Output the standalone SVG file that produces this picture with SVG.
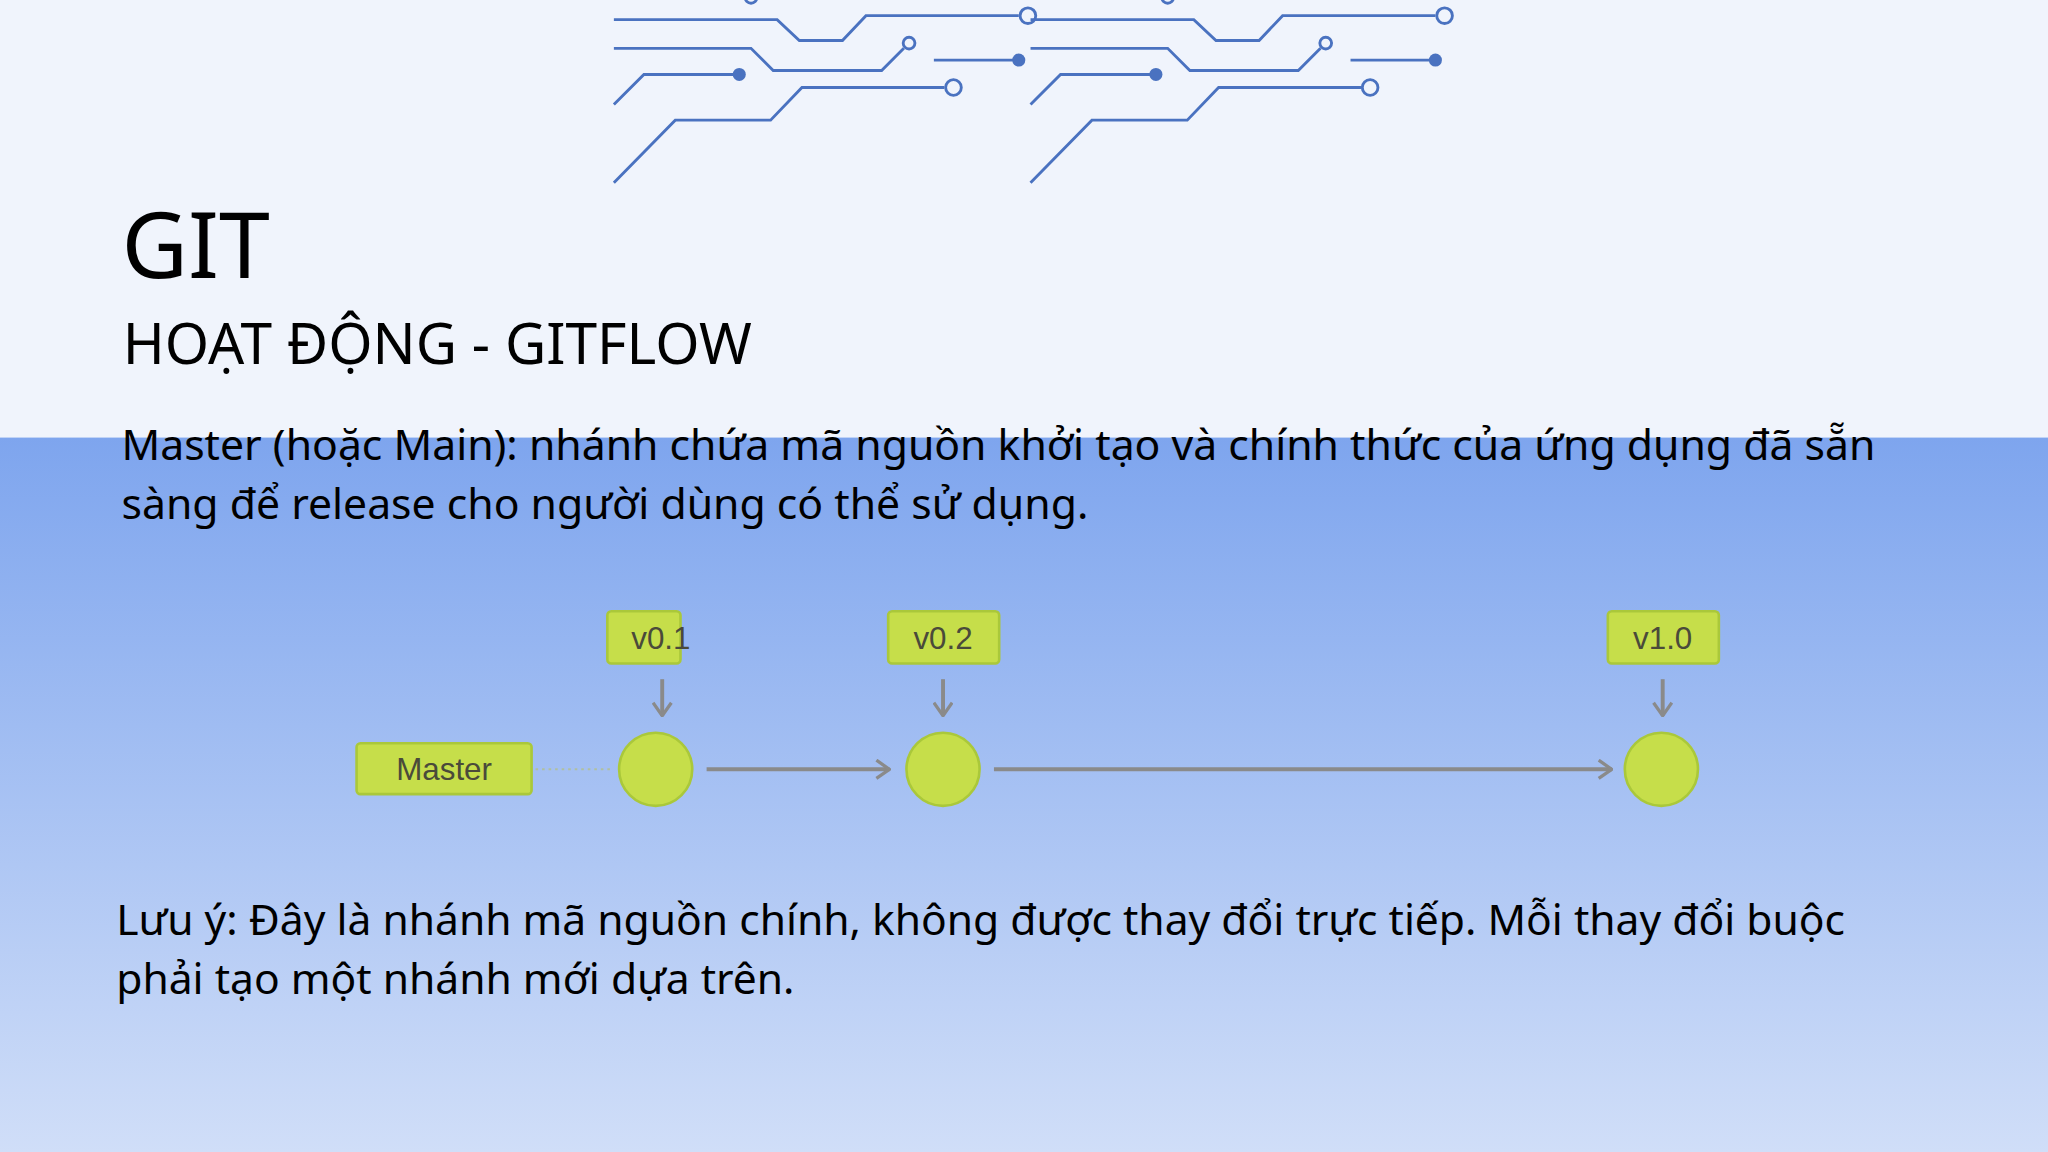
<svg xmlns="http://www.w3.org/2000/svg" width="2048" height="1152" viewBox="0 0 2048 1152">
<defs>
<linearGradient id="bg" x1="0" y1="0" x2="0" y2="1"><stop offset="0" stop-color="#7ea5ee"/><stop offset="1" stop-color="#d0def8"/></linearGradient>
<marker id="ah" viewBox="0 0 12 16" refX="11" refY="8" markerWidth="12" markerHeight="16" markerUnits="userSpaceOnUse" orient="auto"><path d="M1,1 L11,8 L1,15" fill="none" stroke="#8a8a8a" stroke-width="2.5"/></marker>
<style>
.c{fill:none;stroke:#4a72c0;stroke-width:2.2}
.o{fill:#f0f4fc;stroke:#4a72c0;stroke-width:2.2}
.d{fill:#4a72c0}
.t{font-family:"Noto Sans","Open Sans",sans-serif;fill:#000}
.g{fill:#c6de4a;stroke:#aac83a;stroke-width:2}
.lb{font-family:"Liberation Sans",Arial,sans-serif;font-size:24px;fill:#4a4a3a;text-anchor:middle}
.a{fill:none;stroke:#8a8a8a;stroke-width:3;marker-end:url(#ah)}
</style>
</defs>
<g transform="scale(1.30612)">
<rect width="1568" height="335" fill="#f0f4fc"/>
<rect y="335" width="1568" height="547" fill="url(#bg)"/>
<g id="circuit">
<g id="c1">
<polyline class="c" points="470,15 595,15 612,31 645,31 663,12 780,12"/><circle class="o" cx="787" cy="12" r="6"/>
<polyline class="c" points="470,37 575,37 592,54 675,54 692,37"/><circle class="o" cx="696" cy="33" r="4.5"/>
<line class="c" x1="715" y1="46" x2="776" y2="46"/><circle class="d" cx="780" cy="46" r="5"/>
<polyline class="c" points="470,80 493,57 566,57"/><circle class="d" cx="566" cy="57" r="5"/>
<polyline class="c" points="470,140 517,92 590,92 614,67 723,67"/><circle class="o" cx="730" cy="67" r="6"/>
<circle class="o" cx="575" cy="-2" r="4.5"/>
</g>
<g id="c2" transform="translate(319,0)">
<polyline class="c" points="470,15 595,15 612,31 645,31 663,12 780,12"/><circle class="o" cx="787" cy="12" r="6"/>
<polyline class="c" points="470,37 575,37 592,54 675,54 692,37"/><circle class="o" cx="696" cy="33" r="4.5"/>
<line class="c" x1="715" y1="46" x2="776" y2="46"/><circle class="d" cx="780" cy="46" r="5"/>
<polyline class="c" points="470,80 493,57 566,57"/><circle class="d" cx="566" cy="57" r="5"/>
<polyline class="c" points="470,140 517,92 590,92 614,67 723,67"/><circle class="o" cx="730" cy="67" r="6"/>
<circle class="o" cx="575" cy="-2" r="4.5"/>
</g>
</g>
<text class="t" x="93" y="213" font-size="70">GIT</text>
<text class="t" x="94" y="279" font-size="43.5">HOẠT ĐỘNG - GITFLOW</text>
<text class="t" x="93" y="352" font-size="32.7">Master (hoặc Main): nhánh chứa mã nguồn khởi tạo và chính thức của ứng dụng đã sẵn</text>
<text class="t" x="93" y="397" font-size="32.7">sàng để release cho người dùng có thể sử dụng.</text>
<g id="connectors">
<line x1="410" y1="589" x2="470" y2="589" stroke="#b0c0a0" stroke-width="1.5" stroke-dasharray="2,3"/>
<line class="a" x1="541" y1="589" x2="681" y2="589"/>
<line class="a" x1="761" y1="589" x2="1234" y2="589"/>
<line class="a" x1="507" y1="520" x2="507" y2="548"/>
<line class="a" x1="722" y1="520" x2="722" y2="548"/>
<line class="a" x1="1273" y1="520" x2="1273" y2="548"/>
</g>
<g id="master"><rect class="g" x="273" y="569" width="134" height="39" rx="3"/><text class="lb" x="340" y="597">Master</text></g>
<g id="n1"><circle class="g" cx="502" cy="589" r="28"/></g>
<g id="n2"><circle class="g" cx="722" cy="589" r="28"/></g>
<g id="n3"><circle class="g" cx="1272" cy="589" r="28"/></g>
<g id="v01"><rect class="g" x="465" y="468" width="56" height="40" rx="3"/><text class="lb" x="506" y="497">v0.1</text></g>
<g id="v02"><rect class="g" x="680" y="468" width="85" height="40" rx="3"/><text class="lb" x="722" y="497">v0.2</text></g>
<g id="v10"><rect class="g" x="1231" y="468" width="85" height="40" rx="3"/><text class="lb" x="1273" y="497">v1.0</text></g>
<text class="t" x="89" y="716" font-size="32.6">Lưu ý: Đây là nhánh mã nguồn chính, không được thay đổi trực tiếp. Mỗi thay đổi buộc</text>
<text class="t" x="89" y="761" font-size="32.6">phải tạo một nhánh mới dựa trên.</text>
</g>
</svg>
